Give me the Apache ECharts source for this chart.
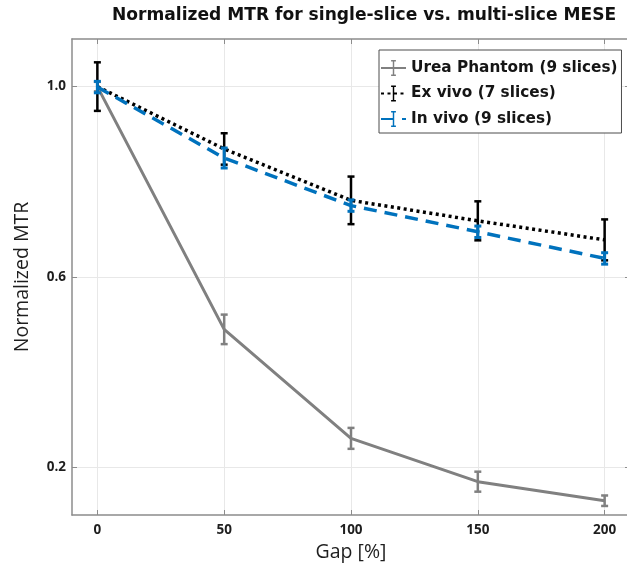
<!DOCTYPE html>
<html>
<head>
<meta charset="utf-8">
<script src="https://cdn.jsdelivr.net/npm/echarts@6/dist/echarts.min.js"></script>
<style>
  html, body { margin: 0; padding: 0; background: #ffffff; }
  #chart { width: 627px; height: 566px; }
</style>
</head>
<body>
<div id="chart"></div>
<script>
// Gap between slices, percent of slice thickness
const gaps = [0, 50, 100, 150, 200];

// Normalized MTR (mean) and error-bar half widths per sample
const ureaMean = [1.0, 0.49, 0.261, 0.170, 0.130];
const ureaErr = [0.01, 0.031, 0.022, 0.021, 0.011];
const exVivoMean = [1.0, 0.869, 0.761, 0.718, 0.678];
const exVivoErr = [0.051, 0.033, 0.050, 0.041, 0.043];
const inVivoMean = [0.999, 0.850, 0.750, 0.695, 0.639];
const inVivoErr = [0.012, 0.021, 0.012, 0.012, 0.012];

const seriesNames = ['Urea Phantom (9 slices)', 'Ex vivo (7 slices)', 'In vivo (9 slices)'];
const xTicks = [0, 50, 100, 150, 200];
const yTicks = [0.2, 0.6, 1.0];

// I-beam glyph used as the legend marker (tiny corner triangles widen its box)
const ibeam = 'path://M0,10L0.01,10L0,10.01Z M20,10L19.99,10L20,10.01Z ' +
  'M7,0H13V1.8H10.9V18.2H13V20H7V18.2H9.1V1.8H7Z';

const chart = echarts.init(document.getElementById('chart'), null, { renderer: 'canvas' });

function errorBars(name, mean, err, color, width, z) {
  return {
    type: 'custom',
    name: name + ' error',
    z: z,
    silent: true,
    data: gaps.map((g, i) => [g, mean[i] - err[i], mean[i] + err[i]]),
    renderItem: function (params, api) {
      const lo = api.coord([api.value(0), api.value(1)]);
      const hi = api.coord([api.value(0), api.value(2)]);
      const cap = 3.5;
      const style = { stroke: color, lineWidth: width };
      return {
        type: 'group',
        children: [
          { type: 'line', shape: { x1: lo[0], y1: lo[1], x2: hi[0], y2: hi[1] }, style: style },
          { type: 'line', shape: { x1: lo[0] - cap, y1: lo[1], x2: lo[0] + cap, y2: lo[1] }, style: style },
          { type: 'line', shape: { x1: hi[0] - cap, y1: hi[1], x2: hi[0] + cap, y2: hi[1] }, style: style }
        ]
      };
    }
  };
}

function meanLine(name, mean, color, width, dash, z) {
  return {
    type: 'line',
    name: name,
    z: z,
    data: gaps.map((g, i) => [g, mean[i]]),
    symbol: ibeam,
    showSymbol: false,
    symbolSize: 10,
    itemStyle: { color: color },
    lineStyle: { color: color, width: width, type: dash },
    emphasis: { disabled: true },
    silent: true
  };
}

const axisColor = '#8c8c8c';
const labelStyle = { color: '#1e1e1e', fontFamily: 'Open Sans', fontWeight: 'bold', fontSize: 13.5 };

chart.setOption({
  animation: false,
  backgroundColor: '#ffffff',
  title: {
    text: 'Normalized MTR for single-slice vs. multi-slice MESE',
    left: 112,
    top: 7,
    padding: 0,
    textStyle: { fontFamily: 'DejaVu Sans', fontWeight: 'bold', fontSize: 17.1, color: '#111111' }
  },
  grid: { left: 72, top: 39, width: 558, height: 476, outerBoundsMode: 'none', containLabel: false },
  legend: {
    orient: 'vertical',
    left: 379,
    top: 50,
    padding: [10, 4, 6, 1],
    itemGap: 9.5,
    itemWidth: 25,
    itemHeight: 20,
    backgroundColor: '#ffffff',
    borderColor: '#4d4d4d',
    borderWidth: 1,
    borderRadius: 0,
    data: seriesNames,
    textStyle: { fontFamily: 'DejaVu Sans', fontWeight: 'bold', fontSize: 15.3, color: '#151515' },
    selectedMode: false
  },
  xAxis: [
    {
      type: 'value',
      min: -10,
      max: 210,
      name: 'Gap [%]',
      nameLocation: 'middle',
      nameGap: 27,
      nameTextStyle: { fontFamily: 'Open Sans', fontSize: 19.5, color: '#1e1e1e' },
      axisLine: { show: true, onZero: false, lineStyle: { color: axisColor, width: 1.5 } },
      axisTick: { show: true, inside: true, length: 5, customValues: xTicks, lineStyle: { color: axisColor } },
      axisLabel: { customValues: xTicks, margin: 8, ...labelStyle },
      splitLine: { show: true, lineStyle: { color: '#e8e8e8', width: 1 } }
    },
    {
      type: 'value',
      position: 'top',
      min: -10,
      max: 210,
      axisLine: { show: true, onZero: false, lineStyle: { color: axisColor, width: 1.5 } },
      axisTick: { show: true, inside: true, length: 5, customValues: xTicks, lineStyle: { color: axisColor } },
      axisLabel: { show: false },
      splitLine: { show: false }
    }
  ],
  yAxis: [
    {
      type: 'value',
      min: 0.1,
      max: 1.1,
      name: 'Normalized MTR',
      nameLocation: 'middle',
      nameRotate: 90,
      nameGap: 40,
      nameTextStyle: { fontFamily: 'Open Sans', fontSize: 19.5, color: '#1e1e1e' },
      axisLine: { show: true, onZero: false, lineStyle: { color: axisColor, width: 1.5 } },
      axisTick: { show: true, inside: true, length: 5, customValues: yTicks, lineStyle: { color: axisColor } },
      axisLabel: { customValues: yTicks, margin: 6, formatter: v => v.toFixed(1), ...labelStyle },
      splitLine: { show: true, lineStyle: { color: '#e8e8e8', width: 1 } }
    },
    {
      type: 'value',
      position: 'right',
      min: 0.1,
      max: 1.1,
      axisLine: { show: true, onZero: false, lineStyle: { color: axisColor, width: 1.5 } },
      axisTick: { show: true, inside: true, length: 5, customValues: yTicks, lineStyle: { color: axisColor } },
      axisLabel: { show: false },
      splitLine: { show: false }
    }
  ],
  series: [
    meanLine(seriesNames[0], ureaMean, '#808080', 3, 'solid', 2),
    errorBars(seriesNames[0], ureaMean, ureaErr, '#808080', 2.5, 3),
    meanLine(seriesNames[1], exVivoMean, '#000000', 3.5, [3, 3.5], 4),
    errorBars(seriesNames[1], exVivoMean, exVivoErr, '#000000', 2.5, 5),
    meanLine(seriesNames[2], inVivoMean, '#0072BD', 3.5, [13, 8], 6),
    errorBars(seriesNames[2], inVivoMean, inVivoErr, '#0072BD', 3, 7)
  ]
});
</script>
</body>
</html>
